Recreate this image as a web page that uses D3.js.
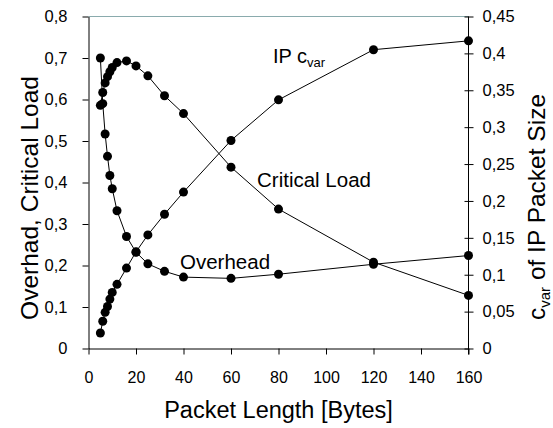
<!DOCTYPE html>
<html><head><meta charset="utf-8">
<script src="https://cdn.jsdelivr.net/npm/d3@7"></script>
<style>
html,body{margin:0;padding:0;background:#fff;}
svg{display:block;font-family:"Liberation Sans",Arial,sans-serif;}
</style></head>
<body>
<svg id="c" width="553" height="428"></svg>
<script>
const packetLength = [5,6,7,8,9,10,12,16,20,25,32,40,60,80,120,160];
const overhead     = [0.700,0.590,0.517,0.463,0.417,0.385,0.332,0.270,0.232,0.204,0.186,0.172,0.169,0.179,0.203,0.224];
const criticalLoad = [0.586,0.617,0.640,0.655,0.667,0.677,0.689,0.693,0.681,0.657,0.609,0.566,0.437,0.336,0.208,0.128];
const ipCvar       = [0.021,0.037,0.049,0.057,0.067,0.076,0.087,0.109,0.131,0.154,0.182,0.212,0.282,0.337,0.405,0.417];
const xTicks  = [0,20,40,60,80,100,120,140,160];
const yLTicks = [0,0.1,0.2,0.3,0.4,0.5,0.6,0.7,0.8];
const yRTicks = [0,0.05,0.1,0.15,0.2,0.25,0.3,0.35,0.4,0.45];

const svg = d3.select("#c");
const L = 88.5, R = 468.5, T = 16.5, B = 348.5;
const x  = d3.scaleLinear().domain([0,160]).range([L,R]);
const yL = d3.scaleLinear().domain([0,0.8]).range([B,T]);
const yR = d3.scaleLinear().domain([0,0.45]).range([B,T]);
const fmt = d => String(+d.toFixed(2)).replace(".", ",");

// top frame line
svg.append("line").attr("x1",L).attr("x2",R).attr("y1",T).attr("y2",T)
  .attr("stroke","#8aabad").attr("stroke-width",1);

// bottom axis
const gx = svg.append("g").attr("transform",`translate(0,${B})`)
  .call(d3.axisBottom(x).tickValues(xTicks).tickSize(6).tickSizeOuter(0).tickFormat(d=>d));
gx.selectAll("text").attr("font-size",16).attr("dy","1.6em");

// left axis
const gl = svg.append("g").attr("transform",`translate(${L},0)`)
  .call(d3.axisLeft(yL).tickValues(yLTicks).tickSize(6).tickSizeOuter(0).tickPadding(15).tickFormat(fmt));
gl.selectAll("text").attr("font-size",16.5);

// right axis (ticks cross the axis)
const gr = svg.append("g").attr("transform",`translate(${R},0)`)
  .call(d3.axisRight(yR).tickValues(yRTicks).tickSize(5).tickSizeOuter(0).tickPadding(9).tickFormat(fmt));
gr.selectAll(".tick line").attr("x1",-4);
gr.selectAll("text").attr("font-size",16.5);
gr.select(".domain").attr("d",`M0,${T}V${B+6}`);

svg.selectAll(".domain, .tick line").attr("stroke","#000").attr("stroke-width",1);
svg.selectAll(".tick text").attr("fill","#000").attr("font-family",'"Liberation Sans",Arial,sans-serif');

// series
const series = [
  {v: overhead, y: yL},
  {v: criticalLoad, y: yL},
  {v: ipCvar, y: yR}
];
series.forEach(s=>{
  const pts = packetLength.map((p,i)=>[x(p), s.y(s.v[i])]);
  svg.append("path").attr("d", d3.line()(pts)).attr("fill","none").attr("stroke","#000").attr("stroke-width",1);
  svg.append("g").selectAll("circle").data(pts).join("circle")
    .attr("cx",d=>d[0]).attr("cy",d=>d[1]).attr("r",4.5).attr("fill","#000");
});

// annotations
const ip = svg.append("text").attr("x",273).attr("y",63).attr("font-size",20);
ip.append("tspan").text("IP c");
ip.append("tspan").attr("font-size",13).attr("dy",4).text("var");
svg.append("text").attr("x",257).attr("y",187).attr("font-size",20.5).text("Critical Load");
svg.append("text").attr("x",180).attr("y",269).attr("font-size",20.5).text("Overhead");

// axis titles
svg.append("text").attr("x",(L+R)/2).attr("y",418).attr("text-anchor","middle")
  .attr("font-size",23.5).text("Packet Length [Bytes]");
svg.append("text").attr("transform","translate(38,198) rotate(-90)").attr("text-anchor","middle")
  .attr("font-size",24.5).text("Overhad, Critical Load");
const rt = svg.append("text").attr("transform","translate(545,207) rotate(-90)").attr("text-anchor","middle")
  .attr("font-size",24.5);
rt.append("tspan").text("c");
rt.append("tspan").attr("font-size",15).attr("dy",5).text("var");
rt.append("tspan").attr("dy",-5).text(" of IP Packet Size");
</script>
</body></html>
